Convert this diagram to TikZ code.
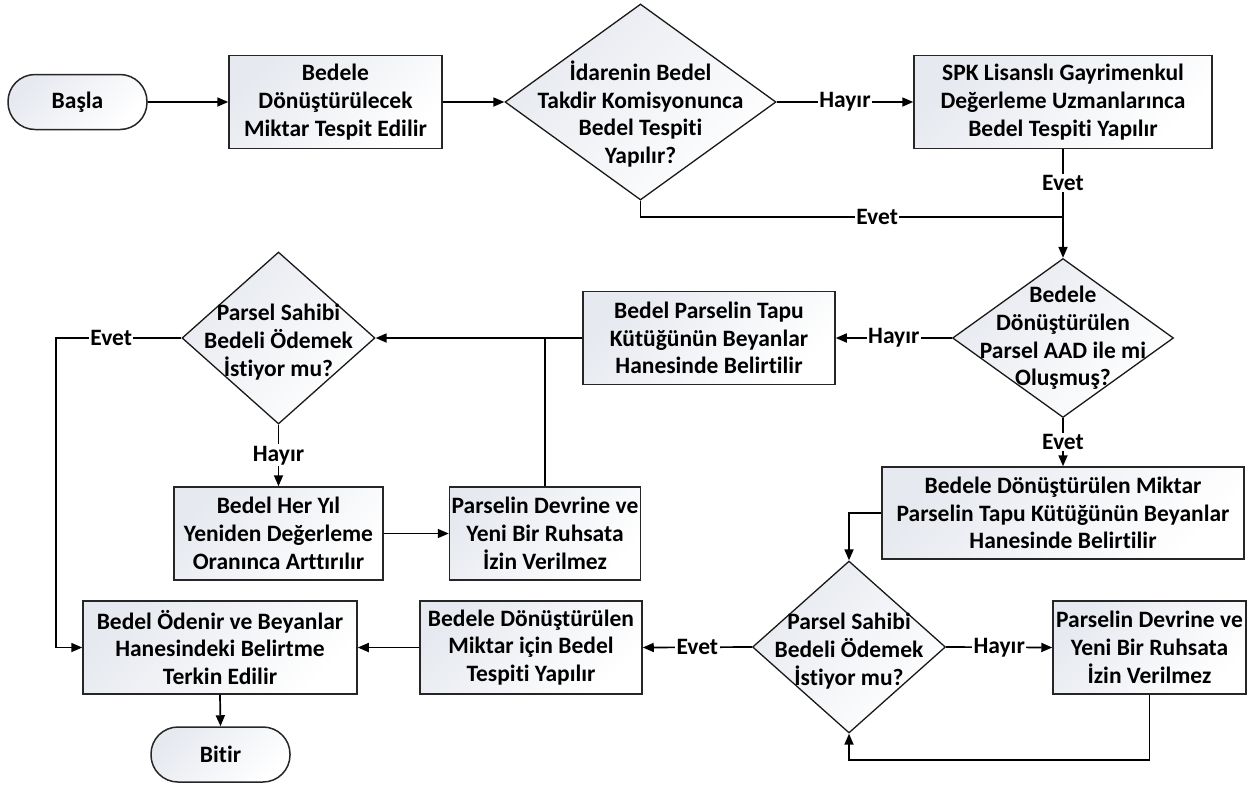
\documentclass[tikz,border=0pt]{standalone}
\usepackage{fontspec}
\setmainfont{Carlito}[Ligatures=NoCommon]
\usetikzlibrary{shapes.geometric,arrows.meta,calc}
\definecolor{fillc}{RGB}{230,233,239}
\begin{document}
\begin{tikzpicture}[x=1pt,y=-1pt,
 every node/.style={font=\fontsize{23.5}{27.8}\selectfont\bfseries, align=center},
 proc/.style={draw=black!85, line width=1.5pt, rectangle, inner sep=0pt, top color=fillc, bottom color=white, shading angle=45},
 term/.style={proc, rounded corners=27pt},
 dec/.style={draw=black!90, line width=1.3pt, diamond, aspect=1, inner sep=0pt, top color=fillc, bottom color=white, shading angle=45},
 lbl/.style={fill=white, inner sep=1.5pt},
 conn/.style={line width=1.7pt},
 arr/.style={conn, -{Triangle[length=11pt,width=9pt]}}]
\useasboundingbox (0,0) rectangle (1257,785);

\node[term, minimum width=139pt, minimum height=55pt] (basla) at (77.5,102) {Başla};
\node[proc, minimum width=213pt, minimum height=93pt] (b1) at (335.5,102) {Bedele\\Dönüştürülecek\\Miktar Tespit Edilir};
\node[dec, minimum width=271pt, minimum height=196pt] (d1) at (640.5,102) {};
\node (d1t) at (640.5,114) {İdarenin Bedel\\Takdir Komisyonunca\\Bedel Tespiti\\Yapılır?};
\node[proc, minimum width=298pt, minimum height=93pt] (b2) at (1063,102) {SPK Lisanslı Gayrimenkul\\Değerleme Uzmanlarınca\\Bedel Tespiti Yapılır};
\coordinate (j1) at (1063,217);
\node[dec, minimum width=221pt, minimum height=159pt] (d2) at (1063,338) {};
\node (d2t) at (1063,338) {Bedele\\Dönüştürülen\\Parsel AAD ile mi\\Oluşmuş?};
\node[proc, minimum width=252pt, minimum height=93pt] (b4) at (709,338) {Bedel Parselin Tapu\\Kütüğünün Beyanlar\\Hanesinde Belirtilir};
\node[dec, minimum width=193pt, minimum height=172pt] (d3) at (278.5,338) {};
\node (d3t) at (278.5,342) {Parsel Sahibi\\Bedeli Ödemek\\İstiyor mu?};
\node[proc, minimum width=209pt, minimum height=93pt] (b5) at (278.5,533.5) {Bedel Her Yıl\\Yeniden Değerleme\\Oranınca Arttırılır};
\node[proc, minimum width=191pt, minimum height=93pt] (b6) at (545,533.5) {Parselin Devrine ve\\Yeni Bir Ruhsata\\İzin Verilmez};
\coordinate (j2) at (b6.north |- d3.east);
\node[proc, minimum width=362pt, minimum height=92pt] (b3) at (1063,513) {Bedele Dönüştürülen Miktar\\Parselin Tapu Kütüğünün Beyanlar\\Hanesinde Belirtilir};
\node[dec, minimum width=193pt, minimum height=172pt] (d4) at (849,647) {};
\node (d4t) at (849,651) {Parsel Sahibi\\Bedeli Ödemek\\İstiyor mu?};
\node[proc, minimum width=193pt, minimum height=93pt] (b9) at (1149.5,647.5) {Parselin Devrine ve\\Yeni Bir Ruhsata\\İzin Verilmez};
\node[proc, minimum width=222pt, minimum height=93pt] (b8) at (531,647.5) {Bedele Dönüştürülen\\Miktar için Bedel\\Tespiti Yapılır};
\node[proc, minimum width=274pt, minimum height=93pt] (b7) at (220,647.5) {Bedel Ödenir ve Beyanlar\\Hanesindeki Belirtme\\Terkin Edilir};
\node[term, minimum width=139pt, minimum height=55pt] (bitir) at (220.5,754.5) {Bitir};
\coordinate (c1) at (56,338);
\coordinate (c2) at (1149.5,760);

\draw[arr] (basla) -- (b1);
\draw[arr] (b1) -- (d1);
\draw[arr] (d1.east) -- node[lbl]{Hayır} (b2.west);
\draw[conn] (d1.south) |- node[lbl, pos=0.78]{Evet} (j1);
\draw[conn] (b2.south) -- node[lbl]{Evet} (j1);
\draw[arr] (j1) -- (d2.north);
\draw[arr] (d2.west) -- node[lbl]{Hayır} (b4.east);
\draw[arr] (b4.west) -- (d3.east);
\draw[conn] (b6.north) -- (j2);
\draw[arr] (d3.west) -- node[lbl, pos=0.56]{Evet} (c1) |- (b7.west);
\draw[arr] (d3.south) -- node[lbl]{Hayır} (b5.north);
\draw[arr] (b5.east) -- (b6.west);
\draw[arr] (d2.south) -- node[lbl]{Evet} (b3.north);
\draw[arr] (b3.west) -| (d4.north);
\draw[arr] (d4.west) -- node[lbl]{Evet} (b8.east);
\draw[arr] (b8.west) -- (b7.east);
\draw[arr] (d4.east) -- node[lbl]{Hayır} (b9.west);
\draw[arr] (b9.south) -- (c2) -| (d4.south);
\draw[arr] (b7.south) -- (bitir.north);
\end{tikzpicture}
\end{document}
